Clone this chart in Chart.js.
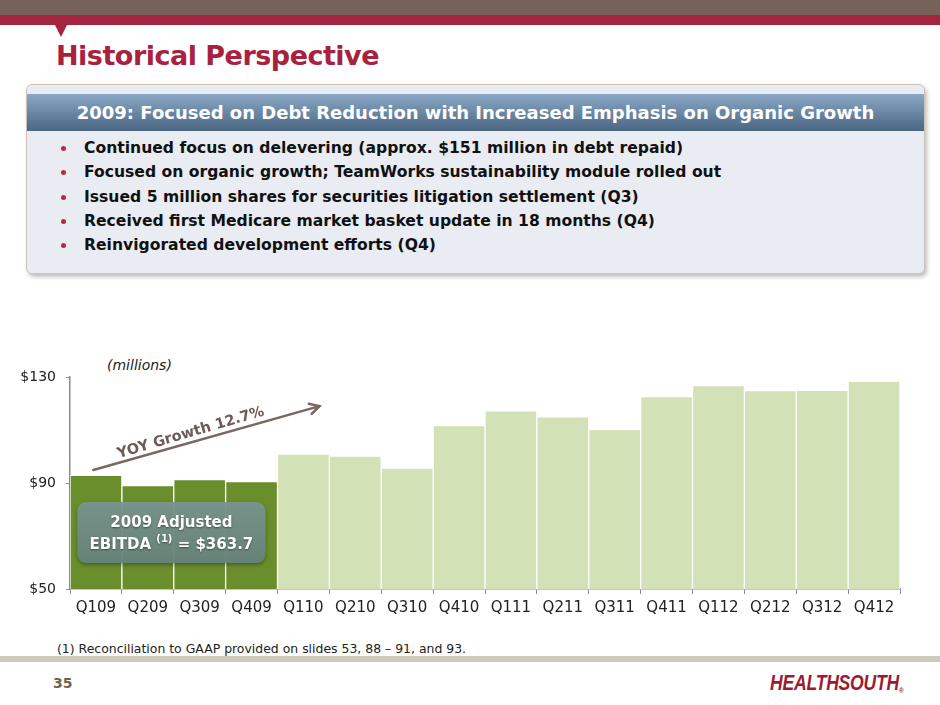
<!DOCTYPE html>
<html>
<head>
<meta charset="utf-8">
<script src="https://cdn.jsdelivr.net/npm/chart.js@4.4.1/dist/chart.umd.min.js"></script>
<style>
  html, body { margin: 0; padding: 0; background: #fff; }
  body { width: 940px; height: 705px; position: relative; overflow: hidden; font-family: "DejaVu Sans", sans-serif; }
  .band1 { position: absolute; left: 0; top: 0; width: 940px; height: 15px; background: #766259; }
  .band2 { position: absolute; left: 0; top: 15px; width: 940px; height: 10px; background: #a5243f; }
  .notch { position: absolute; left: 55px; top: 25px; width: 0; height: 0;
           border-left: 6px solid transparent; border-right: 6px solid transparent; border-top: 12px solid #a5243f; }
  h1 { position: absolute; left: 56px; top: 40px; margin: 0; font-size: 27px; letter-spacing: -0.5px;
       font-weight: bold; color: #a8213f; white-space: nowrap; }
  .box { position: absolute; left: 26px; top: 84px; width: 897px; height: 188px; background: #e9edf3;
         border: 1px solid #cfc4b3; border-radius: 6px; box-shadow: 2px 3px 4px rgba(0,0,0,0.25); }
  .hdr { position: absolute; left: 0; top: 9px; width: 897px; height: 37px;
         background: linear-gradient(#8aa8c6, #4b6682); color: #fff; font-weight: bold; font-size: 18px;
         text-align: center; line-height: 37px; white-space: nowrap; }
  .box ul { position: absolute; left: 0; top: 51px; margin: 0; padding: 0; list-style: none; }
  .box li { position: relative; padding-left: 57px; font-size: 15.6px; font-weight: bold; color: #111;
            line-height: 24.3px; white-space: nowrap; }
  .box li::before { content: ""; position: absolute; left: 34px; top: 10px; width: 5px; height: 5px;
                    border-radius: 50%; background: #b52b46; }
  .millions { position: absolute; left: 107px; top: 357px; font-size: 14px; font-style: italic; color: #222; }
  #wrap { position: absolute; left: 0; top: 355px; width: 940px; height: 270px; }
  .note { position: absolute; left: 57px; top: 641px; font-size: 12.45px; color: #222; white-space: nowrap; }
  .rule { position: absolute; left: 0; top: 656px; width: 940px; height: 6px; background: #cfc9ba; }
  .page { position: absolute; left: 53px; top: 675px; font-size: 14px; font-weight: bold; color: #6f6448; }
  .logo { position: absolute; left: 770px; top: 670px; font-family: "Liberation Sans", sans-serif; white-space: nowrap;
          font-size: 22px; font-weight: bold; font-style: italic; color: #9c1b31; letter-spacing: -0.3px;
          transform: scaleX(0.8); transform-origin: left center; }
  .logo sup { font-size: 8px; font-style: normal; vertical-align: -3px; }
</style>
</head>
<body>
<div class="band1"></div>
<div class="band2"></div>
<div class="notch"></div>
<h1>Historical Perspective</h1>

<div class="box">
  <div class="hdr">2009: Focused on Debt Reduction with Increased Emphasis on Organic Growth</div>
  <ul>
    <li>Continued focus on delevering (approx. $151 million in debt repaid)</li>
    <li>Focused on organic growth; TeamWorks sustainability module rolled out</li>
    <li>Issued 5 million shares for securities litigation settlement (Q3)</li>
    <li>Received first Medicare market basket update in 18 months (Q4)</li>
    <li>Reinvigorated development efforts (Q4)</li>
  </ul>
</div>

<div class="millions">(millions)</div>
<div id="wrap"><canvas id="ebitda"></canvas></div>

<div class="note">(1) Reconciliation to GAAP provided on slides 53, 88 – 91, and 93.</div>
<div class="rule"></div>
<div class="page">35</div>
<div class="logo">HEALTHSOUTH<sup>®</sup></div>

<script>
// quarterly adjusted EBITDA, $ millions
const quarters = ['Q109', 'Q209', 'Q309', 'Q409', 'Q110', 'Q210', 'Q310', 'Q410',
                  'Q111', 'Q211', 'Q311', 'Q411', 'Q112', 'Q212', 'Q312', 'Q412'];
const ebitda = [92.9, 89.0, 91.3, 90.5, 100.9, 100.2, 95.6, 111.7,
                117.2, 115.0, 110.2, 122.6, 126.8, 124.9, 125.0, 128.4];
const yTicks = [50, 90, 130];

const DARK = '#6a8e2c';
const LIGHT = '#d3e1b6';

// arrow / callout anchored in (category index, value) space
const growthArrow = { from: [-0.05, 94.9], to: [4.31, 119.0] };
const growthText = { at: [1.83, 108.9], text: 'YOY Growth 12.7%' };
const callout = { x0: -0.36, x1: 3.27, top: 82.8, bottom: 59.8 };

function roundRect(ctx, x, y, w, h, r) {
  ctx.beginPath();
  ctx.moveTo(x + r, y);
  ctx.arcTo(x + w, y, x + w, y + h, r);
  ctx.arcTo(x + w, y + h, x, y + h, r);
  ctx.arcTo(x, y + h, x, y, r);
  ctx.arcTo(x, y, x + w, y, r);
  ctx.closePath();
}

const annotate = {
  id: 'annotate',
  afterDatasetsDraw(chart) {
    const { ctx, scales: { x, y } } = chart;
    ctx.save();

    // growth arrow
    const ax0 = x.getPixelForValue(growthArrow.from[0]), ay0 = y.getPixelForValue(growthArrow.from[1]);
    const ax1 = x.getPixelForValue(growthArrow.to[0]), ay1 = y.getPixelForValue(growthArrow.to[1]);
    const ang = Math.atan2(ay1 - ay0, ax1 - ax0);
    ctx.strokeStyle = '#7a6762';
    ctx.lineWidth = 2.5;
    ctx.lineCap = 'round';
    ctx.beginPath();
    ctx.moveTo(ax0, ay0);
    ctx.lineTo(ax1, ay1);
    ctx.moveTo(ax1 - 11 * Math.cos(ang - 0.5), ay1 - 11 * Math.sin(ang - 0.5));
    ctx.lineTo(ax1, ay1);
    ctx.lineTo(ax1 - 11 * Math.cos(ang + 0.5), ay1 - 11 * Math.sin(ang + 0.5));
    ctx.stroke();

    // growth label
    const tx = x.getPixelForValue(growthText.at[0]), ty = y.getPixelForValue(growthText.at[1]);
    ctx.translate(tx, ty);
    ctx.rotate(ang - 0.01);
    ctx.font = 'bold 14.5px "DejaVu Sans"';
    ctx.textAlign = 'center';
    ctx.textBaseline = 'middle';
    ctx.lineWidth = 3;
    ctx.strokeStyle = 'rgba(255,255,255,0.9)';
    ctx.strokeText(growthText.text, 0, 0);
    ctx.fillStyle = '#6b5a55';
    ctx.fillText(growthText.text, 0, 0);
    ctx.setTransform(1, 0, 0, 1, 0, 0);
    ctx.restore();

    // 2009 callout
    ctx.save();
    const bx0 = x.getPixelForValue(callout.x0), bx1 = x.getPixelForValue(callout.x1);
    const by0 = y.getPixelForValue(callout.top), by1 = y.getPixelForValue(callout.bottom);
    ctx.shadowColor = 'rgba(0,0,0,0.35)';
    ctx.shadowBlur = 4;
    ctx.shadowOffsetY = 2;
    roundRect(ctx, bx0, by0, bx1 - bx0, by1 - by0, 9);
    const g = ctx.createLinearGradient(0, by0, 0, by1);
    g.addColorStop(0, 'rgba(122,150,143,0.95)');
    g.addColorStop(1, 'rgba(104,132,124,0.95)');
    ctx.fillStyle = g;
    ctx.fill();
    ctx.shadowColor = 'rgba(0,0,0,0.45)';
    ctx.shadowBlur = 2;
    ctx.shadowOffsetY = 1;
    ctx.fillStyle = '#fff';
    ctx.textBaseline = 'middle';
    const cx = (bx0 + bx1) / 2, h = by1 - by0;
    const mainFont = 'bold 15px "DejaVu Sans"';
    const supFont = 'bold 10px "DejaVu Sans"';
    ctx.font = mainFont;
    ctx.textAlign = 'center';
    ctx.fillText('2009 Adjusted', cx, by0 + h * 0.34);
    const a = 'EBITDA ', sup = '(1)', b = ' = $363.7';
    const wa = ctx.measureText(a).width, wb = ctx.measureText(b).width;
    ctx.font = supFont;
    const ws = ctx.measureText(sup).width;
    const lx = cx - (wa + ws + wb) / 2;
    const ly = by0 + h * 0.7;
    ctx.textAlign = 'left';
    ctx.font = mainFont;
    ctx.fillText(a, lx, ly);
    ctx.font = supFont;
    ctx.fillText(sup, lx + wa, ly - 5);
    ctx.font = mainFont;
    ctx.fillText(b, lx + wa + ws, ly);
    ctx.restore();
  }
};

new Chart(document.getElementById('ebitda'), {
  type: 'bar',
  data: {
    labels: quarters,
    datasets: [{
      label: 'Adjusted EBITDA',
      data: ebitda,
      backgroundColor: (c) => quarters[c.dataIndex].endsWith('09') ? DARK : LIGHT,
      borderColor: '#ffffff',
      borderWidth: 1,
      categoryPercentage: 1,
      barPercentage: 1,
    }],
  },
  options: {
    responsive: true,
    maintainAspectRatio: false,
    animation: false,
    layout: { padding: { top: 22, right: 40, left: 0, bottom: 0 } },
    plugins: { legend: { display: false }, tooltip: { enabled: false } },
    scales: {
      x: {
        z: 1,
        grid: { drawOnChartArea: false, drawTicks: true, tickLength: 5, color: '#8a8a8a', offset: true },
        border: { color: '#8a8a8a', width: 1.5 },
        ticks: { color: '#222', font: { family: 'DejaVu Sans', size: 15 }, padding: 5, maxRotation: 0, autoSkip: false },
        afterFit: (s) => { s.height = 36; },
      },
      y: {
        min: 50,
        max: 130,
        grid: { drawOnChartArea: false, drawTicks: true, tickLength: 4, color: '#8a8a8a' },
        border: { color: '#8a8a8a', width: 1.5 },
        ticks: { color: '#222', font: { family: 'DejaVu Sans', size: 14 }, padding: 10, callback: (v) => '$' + v },
        afterBuildTicks: (s) => { s.ticks = yTicks.map((v) => ({ value: v })); },
        afterFit: (s) => { s.width = 70; },
      },
    },
  },
  plugins: [annotate],
});
</script>
</body>
</html>
